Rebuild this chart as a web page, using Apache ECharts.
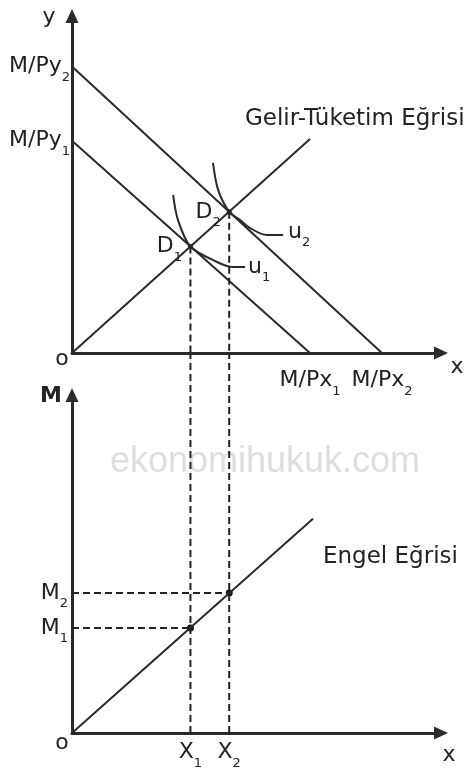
<!DOCTYPE html>
<html>
<head>
<meta charset="utf-8">
<script src="https://cdn.jsdelivr.net/npm/echarts@6/dist/echarts.min.js"></script>
<style>
	body { margin: 0; background: #fff; }
	#chart { width: 472px; height: 774px; }
</style>
</head>
<body>
<div id="chart"></div>
<script>
// ust panel: butce dogrulari, gelir-tuketim egrisi, farksizlik egrileri
var budget1 = [[0, 6.3], [6.45, 0]];
var budget2 = [[0, 8.5], [8.4, 0]];
var incomeConsumption = [[0, 0], [6.45, 6.35]];
var u1Curve = [[2.74, 4.69], [2.87, 3.95], [3.21, 3.16], [3.93, 2.70], [4.36, 2.55], [4.69, 2.55]];
var u2Curve = [[3.82, 5.64], [3.96, 4.84], [4.26, 4.19], [4.55, 3.95], [4.82, 3.71], [5.28, 3.50], [5.72, 3.50]];
var equilibria = [[3.21, 3.16], [4.26, 4.19]];
var topYTicks = [6.3, 8.5];
var topXTicks = [6.45, 8.4];

// alt panel: Engel egrisi
var engelCurve = [[0, 0], [6.53, 6.34]];
var engelPoints = [[3.21, 3.11], [4.26, 4.14]];
var botYTicks = [3.11, 4.14];
var botXTicks = [3.21, 4.26];

var W = 472, H = 774;
var gridTop = { left: 72, top: 16, right: 31, bottom: 421 };
var gridBot = { left: 72, top: 395, right: 31, bottom: 41 };
// bottom-grid value reaching the upper x axis (dashed guides cross the gap)
var topAxisPx = H - gridTop.bottom;
var botHeight = H - gridBot.top - gridBot.bottom;
var reach = 10 * (H - gridBot.bottom - topAxisPx) / botHeight;

var ink = '#222';
var font = 'DejaVu Sans';
var rich = {
	m: { fontSize: 22, lineHeight: 24, color: ink, fontFamily: font },
	s: { fontSize: 13, padding: [22, 0, 0, 0], color: ink, fontFamily: font }
};

function sub(main, n) {
	return '{m|' + main + '}{s|' + n + '}';
}

function axis(gridIndex, ticks, name, margin) {
	return {
		type: 'value',
		gridIndex: gridIndex,
		min: 0,
		max: 10,
		splitLine: { show: false },
		axisTick: { show: false },
		axisLine: {
			show: true,
			symbol: ['none', 'triangle'],
			symbolSize: [13, 14],
			lineStyle: { color: '#2a2a2a', width: 3 }
		},
		axisLabel: {
			customValues: ticks,
			margin: margin,
			formatter: function(v) {
				var i = ticks.indexOf(v);
				return sub(name, i + 1);
			},
			rich: rich
		}
	};
}

function line(xi, data, opts) {
	var s = {
		type: 'line',
		xAxisIndex: xi,
		yAxisIndex: xi,
		data: data,
		symbol: 'none',
		silent: true,
		lineStyle: { color: '#2a2a2a', width: 2 }
	};
	for (var k in opts) s[k] = opts[k];
	return s;
}

var dash = { color: '#222', width: 2, type: [7, 4] };

var series = [
	line(0, budget1),
	line(0, budget2),
	line(0, incomeConsumption),
	line(0, u1Curve, {
		smooth: 0.3,
		endLabel: { show: true, distance: 3, color: ink, formatter: sub('u', 1), rich: rich }
	}),
	line(0, u2Curve, {
		smooth: 0.3,
		endLabel: { show: true, distance: 5, offset: [0, -3], color: ink, formatter: sub('u', 2), rich: rich }
	}),
	line(0, [equilibria[0], [equilibria[0][0], 0]], { lineStyle: dash }),
	line(0, [equilibria[1], [equilibria[1][0], 0]], { lineStyle: dash }),
	{
		type: 'scatter',
		xAxisIndex: 0,
		yAxisIndex: 0,
		data: equilibria,
		symbolSize: 5,
		itemStyle: { color: '#222', opacity: 1 },
		silent: true,
		label: {
			show: true,
			position: 'left',
			distance: 6,
			color: ink,
			formatter: function(p) { return sub('D', p.dataIndex + 1); },
			rich: rich
		}
	},

	line(1, engelCurve),
	line(1, [[0, engelPoints[0][1]], engelPoints[0]], { lineStyle: dash }),
	line(1, [[0, engelPoints[1][1]], engelPoints[1]], { lineStyle: dash }),
	line(1, [[botXTicks[0], 0], [botXTicks[0], reach]], { lineStyle: dash, clip: false }),
	line(1, [[botXTicks[1], 0], [botXTicks[1], reach]], { lineStyle: dash, clip: false }),
	{
		type: 'scatter',
		xAxisIndex: 1,
		yAxisIndex: 1,
		data: engelPoints,
		symbolSize: 7,
		itemStyle: { color: '#111', opacity: 1 },
		silent: true
	}
];

function txt(x, y, text, font_, align) {
	return {
		type: 'text',
		silent: true,
		z: 10,
		style: {
			text: text,
			x: x,
			y: y,
			fill: ink,
			font: font_,
			textAlign: align || 'center',
			textVerticalAlign: 'middle'
		}
	};
}

var f22 = '22px "' + font + '"';
var f23 = '23px "' + font + '"';

var myChart = echarts.init(document.getElementById('chart'), null, { renderer: 'canvas' });
var option = {
	animation: false,
	backgroundColor: '#fff',
	grid: [
		{ left: gridTop.left, top: gridTop.top, right: gridTop.right, bottom: gridTop.bottom, containLabel: false, outerBoundsMode: 'none' },
		{ left: gridBot.left, top: gridBot.top, right: gridBot.right, bottom: gridBot.bottom, containLabel: false, outerBoundsMode: 'none' }
	],
	xAxis: [axis(0, topXTicks, 'M/Px', 10), axis(1, botXTicks, 'X', 2)],
	yAxis: [axis(0, topYTicks, 'M/Py', 2), axis(1, botYTicks, 'M', 4)],
	series: series,
	graphic: [
		{
			type: 'text',
			silent: true,
			z: -1,
			style: {
				text: 'ekonomihukuk.com',
				x: 265,
				y: 462,
				fill: '#dedede',
				font: '36px "Liberation Sans"',
				textAlign: 'center',
				textVerticalAlign: 'middle'
			}
		},
		txt(49, 17, 'y', f22),
		txt(457, 367, 'x', f22),
		txt(62, 359, 'o', f22),
		txt(51, 396, 'M', 'bold 22px "' + font + '"'),
		txt(449, 755, 'x', f22),
		txt(62, 743, 'o', f22),
		txt(245, 119, 'Gelir-Tüketim Eğrisi', f23, 'left'),
		txt(323, 557, 'Engel Eğrisi', f23, 'left')
	]
};
myChart.setOption(option);
</script>
</body>
</html>
